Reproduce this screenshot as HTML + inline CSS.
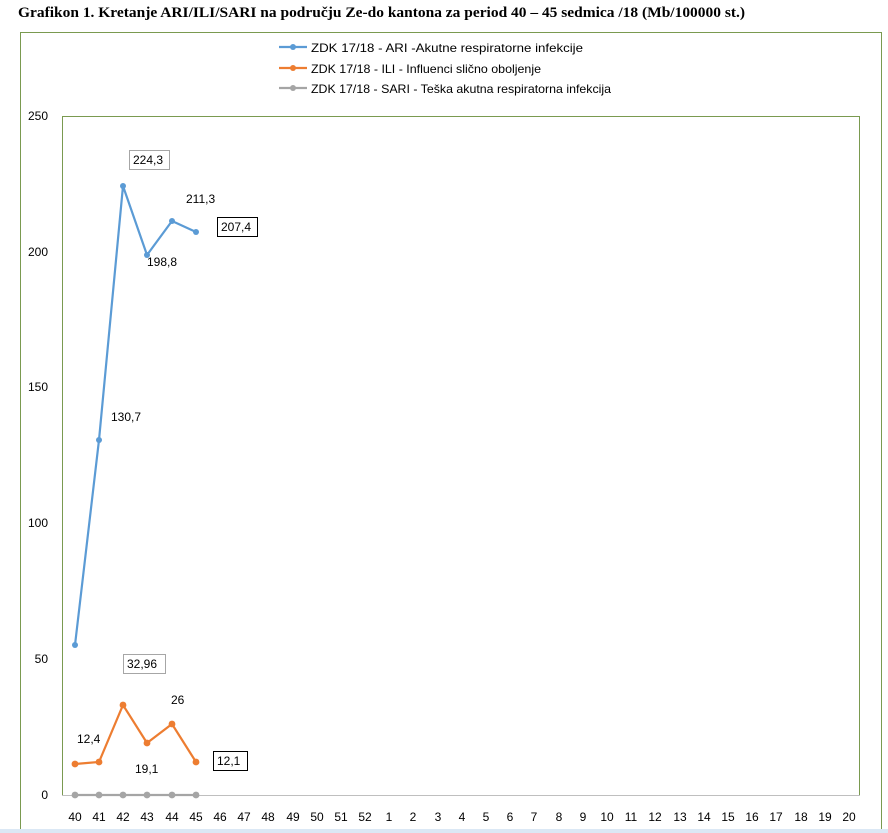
<!DOCTYPE html>
<html><head><meta charset="utf-8"><style>
body{margin:0;background:#fff;}
svg{display:block;}
text{font-family:"Liberation Sans",sans-serif;font-size:12px;fill:#000;}
</style></head><body>
<svg width="888" height="833" viewBox="0 0 888 833">
<text x="18" y="17" style="font-family:'Liberation Serif',serif;font-weight:bold;font-size:14.5px" textLength="727" lengthAdjust="spacingAndGlyphs">Grafikon 1. Kretanje ARI/ILI/SARI  na području Ze-do kantona za period 40 – 45 sedmica /18  (Mb/100000 st.)</text>
<rect x="20.5" y="32.5" width="861" height="810" fill="none" stroke="#7a9a50" stroke-width="1"/>
<rect x="0" y="829" width="888" height="4" fill="#dbe8f5"/>
<path d="M62.5 795V116.5H859.5V795" fill="none" stroke="#7a9a50"/>
<line x1="62" y1="795.5" x2="860" y2="795.5" stroke="#bfbfbf"/>
<!-- legend -->
<g stroke-width="2.2">
<line x1="279" y1="47" x2="307" y2="47" stroke="#5b9bd5"/><circle cx="293" cy="47" r="3" fill="#5b9bd5"/>
<line x1="279" y1="68" x2="307" y2="68" stroke="#ed7d31"/><circle cx="293" cy="68" r="3" fill="#ed7d31"/>
<line x1="279" y1="88" x2="307" y2="88" stroke="#a5a5a5"/><circle cx="293" cy="88" r="3" fill="#a5a5a5"/>
</g>
<text x="311" y="52" textLength="272" lengthAdjust="spacingAndGlyphs">ZDK 17/18 - ARI -Akutne respiratorne infekcije</text>
<text x="311" y="73" textLength="230" lengthAdjust="spacingAndGlyphs">ZDK 17/18 - ILI - Influenci slično oboljenje</text>
<text x="311" y="93" textLength="300" lengthAdjust="spacingAndGlyphs">ZDK 17/18 - SARI - Teška akutna respiratorna infekcija</text>
<!-- y labels -->
<g text-anchor="end">
<text x="48" y="120">250</text><text x="48" y="256">200</text><text x="48" y="391">150</text>
<text x="48" y="527">100</text><text x="48" y="663">50</text><text x="48" y="799">0</text>
</g>
<!-- series -->
<polyline points="75,645 99,440 123,186 147,255 172,221 196,232" fill="none" stroke="#5b9bd5" stroke-width="2.2"/>
<g fill="#5b9bd5"><circle cx="75" cy="645" r="3"/><circle cx="99" cy="440" r="3"/><circle cx="123" cy="186" r="3"/><circle cx="147" cy="255" r="3"/><circle cx="172" cy="221" r="3"/><circle cx="196" cy="232" r="3"/></g>
<polyline points="75,764 99,762 123,705 147,743 172,724 196,762" fill="none" stroke="#ed7d31" stroke-width="2.2"/>
<g fill="#ed7d31"><circle cx="75" cy="764" r="3.4"/><circle cx="99" cy="762" r="3.4"/><circle cx="123" cy="705" r="3.4"/><circle cx="147" cy="743" r="3.4"/><circle cx="172" cy="724" r="3.4"/><circle cx="196" cy="762" r="3.4"/></g>
<polyline points="75,795 196,795" fill="none" stroke="#a5a5a5" stroke-width="2.2"/>
<g fill="#a5a5a5"><circle cx="75" cy="795" r="3.4"/><circle cx="99" cy="795" r="3.4"/><circle cx="123" cy="795" r="3.4"/><circle cx="147" cy="795" r="3.4"/><circle cx="172" cy="795" r="3.4"/><circle cx="196" cy="795" r="3.4"/></g>
<!-- data labels -->
<rect x="129.5" y="150.5" width="40" height="19" fill="#fff" stroke="#a6a6a6"/>
<text x="133" y="164">224,3</text>
<text x="186" y="203">211,3</text>
<rect x="217.5" y="217.5" width="40" height="19" fill="#fff" stroke="#000"/>
<text x="221" y="231">207,4</text>
<text x="147" y="266">198,8</text>
<text x="111" y="421">130,7</text>
<rect x="123.5" y="654.5" width="42" height="19" fill="#fff" stroke="#a6a6a6"/>
<text x="127" y="668">32,96</text>
<text x="171" y="704">26</text>
<text x="77" y="743">12,4</text>
<text x="135" y="773">19,1</text>
<rect x="213.5" y="751.5" width="34" height="19" fill="#fff" stroke="#000"/>
<text x="217" y="765">12,1</text>
<g text-anchor="middle">
<text x="75" y="821">40</text><text x="99" y="821">41</text><text x="123" y="821">42</text><text x="147" y="821">43</text><text x="172" y="821">44</text><text x="196" y="821">45</text><text x="220" y="821">46</text><text x="244" y="821">47</text><text x="268" y="821">48</text><text x="293" y="821">49</text><text x="317" y="821">50</text><text x="341" y="821">51</text><text x="365" y="821">52</text><text x="389" y="821">1</text><text x="413" y="821">2</text><text x="438" y="821">3</text><text x="462" y="821">4</text><text x="486" y="821">5</text><text x="510" y="821">6</text><text x="534" y="821">7</text><text x="559" y="821">8</text><text x="583" y="821">9</text><text x="607" y="821">10</text><text x="631" y="821">11</text><text x="655" y="821">12</text><text x="680" y="821">13</text><text x="704" y="821">14</text><text x="728" y="821">15</text><text x="752" y="821">16</text><text x="776" y="821">17</text><text x="801" y="821">18</text><text x="825" y="821">19</text><text x="849" y="821">20</text>
</g>
</svg>
</body></html>
